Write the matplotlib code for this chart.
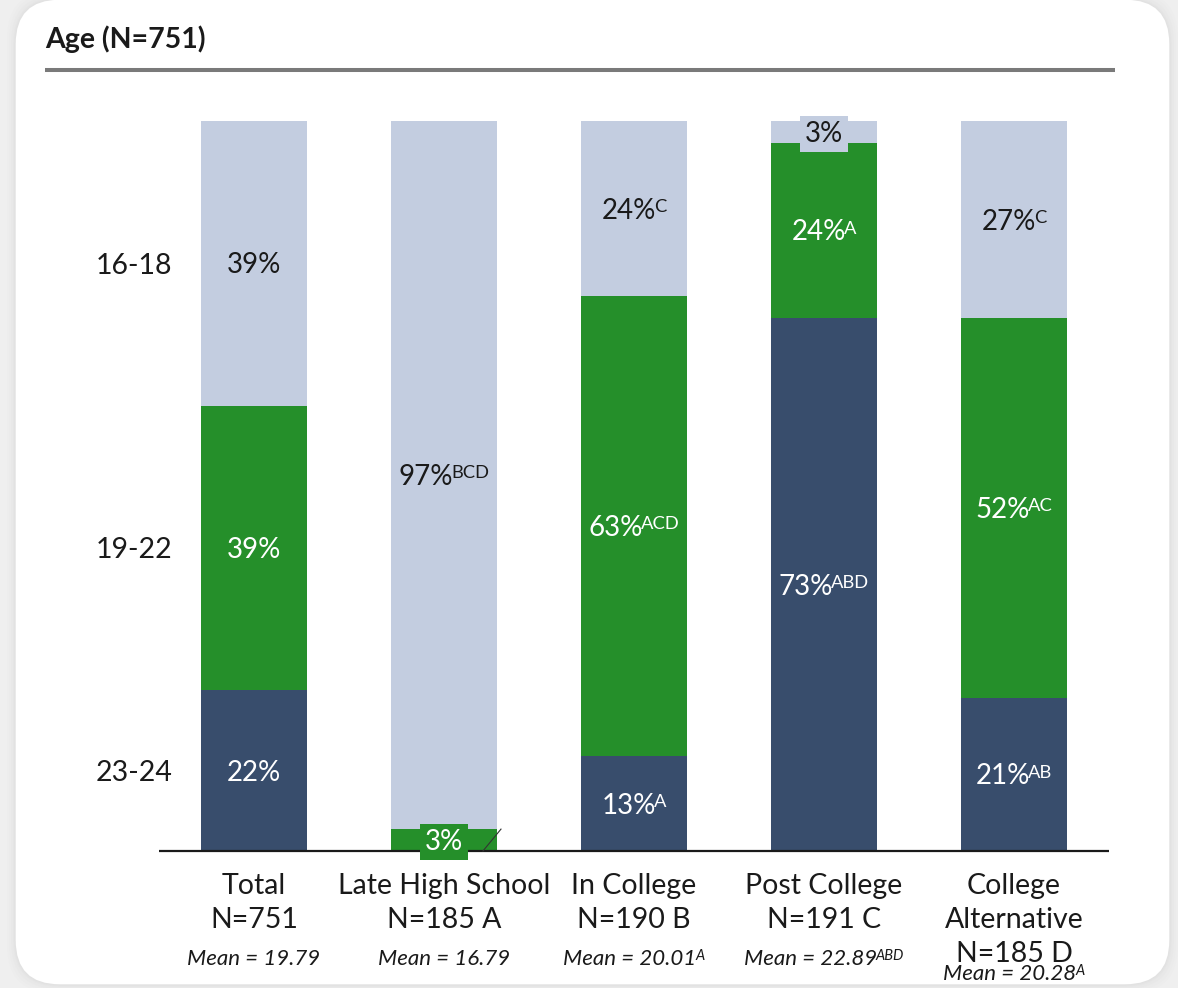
import matplotlib
matplotlib.use("Agg")
import matplotlib.pyplot as plt
import numpy as np
from matplotlib.patches import FancyBboxPatch
from matplotlib.lines import Line2D
from matplotlib.transforms import offset_copy

plt.rcParams["font.family"] = ["Lato", "DejaVu Sans"]

# ---- data -------------------------------------------------------------
title = "Age (N=751)"
categories = ["Total", "Late High School", "In College", "Post College", "College\nAlternative"]
group_n = ["N=751", "N=185 A", "N=190 B", "N=191 C", "N=185 D"]
age_bands = ["23-24", "19-22", "16-18"]

pct_23_24 = [22, 0, 13, 73, 21]
pct_19_22 = [39, 3, 63, 24, 52]
pct_16_18 = [39, 97, 24, 3, 27]

sig_23_24 = ["", "", "A", "ABD", "AB"]
sig_19_22 = ["", "", "ACD", "A", "AC"]
sig_16_18 = ["", "BCD", "C", "", "C"]

mean_age = [19.79, 16.79, 20.01, 22.89, 20.28]
mean_sig = ["", "", "A", "ABD", "A"]

# ---- style ------------------------------------------------------------
C_DARK = "#384d6c"
C_GREEN = "#258f2a"
C_LIGHT = "#c3cde0"
C_TEXT = "#1a1a1a"

W, H, DPI = 1178, 988, 100
fig = plt.figure(figsize=(W / DPI, H / DPI), dpi=DPI, facecolor="#efefef")

# card with soft shadow
for k, a in enumerate([0.025, 0.03, 0.035, 0.04]):
    g = 0.08 - k * 0.02
    fig.add_artist(FancyBboxPatch((0.15 - g, 0.03 - g), 11.55 + 2 * g, 9.86 + 2 * g,
                                  boxstyle="round,pad=0,rounding_size=0.47",
                                  transform=fig.dpi_scale_trans, facecolor="#b0b0b0",
                                  edgecolor="none", alpha=a, zorder=-10))
fig.add_artist(FancyBboxPatch((0.15, 0.03), 11.55, 9.86,
                              boxstyle="round,pad=0,rounding_size=0.45",
                              transform=fig.dpi_scale_trans, facecolor="white",
                              edgecolor="#e2e2e2", linewidth=1.0, zorder=-9))

# title and rule
fig.text(45 / W, (H - 48) / H, title, fontsize=20.5, fontweight="bold",
         color=C_TEXT, va="baseline", ha="left")
fig.add_artist(Line2D([45 / W, 1115 / W], [(H - 70.5) / H] * 2, lw=2.9,
                      color="#7a7a7a", solid_capstyle="butt"))

ax = fig.add_axes([159 / W, 137 / H, 950 / W, 730 / H])
ax.set_zorder(5)
ax.set_xlim(-0.5, 4.5)
ax.set_ylim(0, 100)
ax.axis("off")
ax.patch.set_alpha(0)

renderer = fig.canvas.get_renderer()


def place(x, y, main, sup="", size=20, color=C_TEXT, style="normal", dy=0.0,
          box=None, sup_ratio=0.66):
    """Centre main text (plus optional superscript) on data point (x, y)."""
    px = size * DPI / 72.0
    cap = 0.72 * px
    kw = dict(fontsize=size, color=color, fontstyle=style, va="baseline",
              ha="left", clip_on=False, zorder=5)
    t1 = ax.text(x, y, main, bbox=box, **kw)
    w1 = t1.get_window_extent(renderer).width
    w2 = 0.0
    t2 = None
    gap = -0.06 * px
    if sup:
        kw2 = dict(kw)
        kw2["fontsize"] = size * sup_ratio
        t2 = ax.text(x, y, sup, **kw2)
        w2 = t2.get_window_extent(renderer).width + gap
    x0 = -(w1 + w2) / 2.0
    base = dy - cap / 2.0
    t1.set_transform(offset_copy(ax.transData, fig=fig, x=x0, y=base, units="dots"))
    if t2 is not None:
        t2.set_transform(offset_copy(ax.transData, fig=fig, x=x0 + w1 + gap,
                                     y=base + cap * (1 - sup_ratio), units="dots"))


x = np.arange(len(categories))
bar_w = 0.558
stack = [
    (pct_23_24, sig_23_24, C_DARK, "white"),
    (pct_19_22, sig_19_22, C_GREEN, "white"),
    (pct_16_18, sig_16_18, C_LIGHT, C_TEXT),
]

bottom = np.zeros(len(categories))
for vals, sigs, col, tcol in stack:
    vals = np.array(vals, dtype=float)
    ax.bar(x, vals, width=bar_w, bottom=bottom, color=col, edgecolor="none", zorder=2)
    for i, v in enumerate(vals):
        if v <= 0:
            continue
        yc = bottom[i] + v / 2.0
        label = f"{v:.0f}%"
        if v < 5:
            place(x[i], yc, label, sigs[i], color=tcol,
                  box=dict(boxstyle="square,pad=0.18", facecolor=col, edgecolor="none"))
            if col == C_GREEN:
                xr = x[i] + bar_w / 2
                ax.plot([xr - 0.074, xr + 0.021], [0, bottom[i] + v], color="#333333",
                        lw=0.8, zorder=6, clip_on=False)
        else:
            place(x[i], yc, label, sigs[i], color=tcol)
    bottom += vals

# baseline
ax.plot([-0.5, 4.5], [0, 0], color=C_TEXT, lw=1.6, zorder=4, clip_on=False,
        solid_capstyle="butt")

# age-band labels, aligned with the Total column segments
tot_mid = np.cumsum([0] + pct_23_24[:1] + pct_19_22[:1])[:3] + \
    np.array([pct_23_24[0], pct_19_22[0], pct_16_18[0]]) / 2.0
for band, yc in zip(age_bands, tot_mid):
    place(-0.632, yc, band, size=20.5)

# column labels
for i, (cat, n, m, ms) in enumerate(zip(categories, group_n, mean_age, mean_sig)):
    lines = cat.split("\n") + [n]
    for j, line in enumerate(lines):
        place(x[i], 0, line, size=20.5, dy=-(33 + 34 * j))
    mean_dy = -106 if len(lines) == 2 else -121
    place(x[i], 0, f"Mean = {m:.2f}", ms, size=16, style="italic", dy=mean_dy)

fig.savefig("out.png", dpi=DPI, facecolor=fig.get_facecolor())
